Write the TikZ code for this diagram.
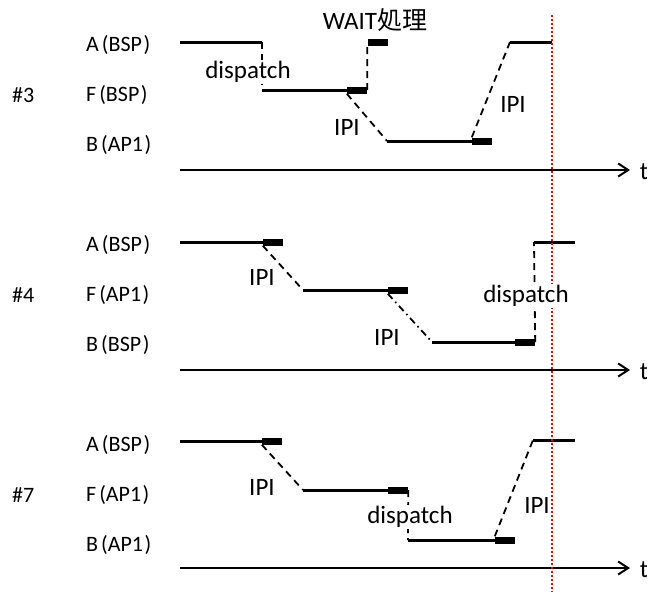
\documentclass[tikz,border=0pt]{standalone}
\usepackage{fontspec}
\setmainfont{Carlito}
\newfontfamily\jpfont{Noto Sans CJK JP}
\usetikzlibrary{arrows.meta}

\begin{document}
\begin{tikzpicture}[x=1pt,y=-1pt]
\tikzstyle{every node}+=[inner sep=0pt]
\tikzstyle{rowlabel}=[anchor=west, font=\fontsize{22}{24}\selectfont]
\tikzstyle{tag}=[fill=white, inner sep=1pt, font=\fontsize{25}{28}\selectfont]
\tikzstyle{state}=[line width=3pt]
\tikzstyle{busy}=[fill=black, minimum width=20pt, minimum height=7pt]
\tikzstyle{jump}=[line width=1.8pt, dash pattern=on 7pt off 5pt]
\tikzstyle{jumpdot}=[line width=1.8pt, dash pattern=on 7pt off 4pt on 1.5pt off 4pt]
\tikzstyle{axis}=[line width=2pt, -{Straight Barb[length=10pt,width=13pt]}]
\useasboundingbox (0,0) rectangle (647,592);
\node[rowlabel] (n3) at (12,95) {\#3};
\node[rowlabel] (a3) at (86,45) {A\kern3pt(BSP\kern1.5pt)};
\node[rowlabel] (f3) at (86,95) {F\kern3pt(BSP\kern1.5pt)};
\node[rowlabel] (b3) at (86,145) {B\kern3pt(AP1\kern1.5pt)};
\node[rowlabel] (n4) at (12,295) {\#4};
\node[rowlabel] (a4) at (86,245) {A\kern3pt(BSP\kern1.5pt)};
\node[rowlabel] (f4) at (86,295) {F\kern3pt(AP1\kern1.5pt)};
\node[rowlabel] (b4) at (86,345) {B\kern3pt(BSP\kern1.5pt)};
\node[rowlabel] (n7) at (12,495) {\#7};
\node[rowlabel] (a7) at (86,445) {A\kern3pt(BSP\kern1.5pt)};
\node[rowlabel] (f7) at (86,495) {F\kern3pt(AP1\kern1.5pt)};
\node[rowlabel] (b7) at (86,545) {B\kern3pt(AP1\kern1.5pt)};
\coordinate (a3s) at (180,42);
\coordinate (a3e) at (262,42);
\coordinate (f3s) at (262,90);
\node[busy] (f3b) at (357,90) {};
\node[busy] (w3b) at (377.5,42.5) {};
\coordinate (b3s) at (387,141);
\node[busy] (b3b) at (482,141) {};
\coordinate (a3r) at (510,42);
\coordinate (a3f) at (552,42);
\coordinate (t3s) at (180,170);
\coordinate (t3e) at (630,170);
\draw[state] (a3s) -- (a3e);
\draw[jump] (a3e) -- (f3s);
\draw[state] (f3s) -- (f3b.west);
\draw[jump] (f3b.east) -- (w3b.west);
\draw[jump] (f3b.south west) -- (b3s);
\draw[state] (b3s) -- (b3b.west);
\draw[jump] (b3b.north west) -- (a3r);
\draw[state] (a3r) -- (a3f);
\draw[axis] (t3s) -- (t3e);
\coordinate (a4s) at (180,242);
\node[busy] (a4b) at (273,242) {};
\coordinate (f4s) at (303,290);
\node[busy] (f4b) at (398,290) {};
\coordinate (b4s) at (432,342);
\node[busy] (b4b) at (525,342) {};
\coordinate (a4r) at (534,242);
\coordinate (a4f) at (575,242);
\coordinate (t4s) at (180,370);
\coordinate (t4e) at (630,370);
\draw[state] (a4s) -- (a4b.west);
\draw[jump] (a4b.south west) -- (f4s);
\draw[state] (f4s) -- (f4b.west);
\draw[jumpdot] (f4b.south west) -- (b4s);
\draw[state] (b4s) -- (b4b.west);
\draw[jump] (b4b.east) -- (a4r);
\draw[state] (a4r) -- (a4f);
\draw[axis] (t4s) -- (t4e);
\coordinate (a7s) at (180,441);
\node[busy] (a7b) at (272,441) {};
\coordinate (f7s) at (303,490);
\node[busy] (f7b) at (398,490) {};
\coordinate (b7s) at (408,540);
\node[busy] (b7b) at (505,540) {};
\coordinate (a7r) at (533,440);
\coordinate (a7f) at (575,440);
\coordinate (t7s) at (180,568);
\coordinate (t7e) at (630,568);
\draw[state] (a7s) -- (a7b.west);
\draw[jump] (a7b.south west) -- (f7s);
\draw[state] (f7s) -- (f7b.west);
\draw[jump] (f7b.east) -- (b7s);
\draw[state] (b7s) -- (b7b.west);
\draw[jump] (b7b.north west) -- (a7r);
\draw[state] (a7r) -- (a7f);
\draw[axis] (t7s) -- (t7e);
\coordinate (nowtop) at (552,15);
\coordinate (nowbot) at (552,592);
\draw[red, line width=1.6pt, dash pattern=on 2pt off 2pt] (nowtop) -- (nowbot);
\node[tag] (d3) at (248,72) {dispatch};
\node[tag, fill=none] (w3) at (375,20) {WAIT{\jpfont 処理}};
\node[tag] (i3a) at (347,127) {IPI};
\node[tag] (i3b) at (513,104) {IPI};
\node[tag] (tt3) at (644,172) {t};
\node[tag] (i4a) at (262,277) {IPI};
\node[tag] (i4b) at (387,337) {IPI};
\node[tag] (d4) at (526,296) {dispatch};
\node[tag] (tt4) at (644,372) {t};
\node[tag] (i7a) at (262,487) {IPI};
\node[tag] (d7) at (410,517) {dispatch};
\node[tag] (i7b) at (537,505) {IPI};
\node[tag] (tt7) at (644,570) {t};
\end{tikzpicture}
\end{document}
